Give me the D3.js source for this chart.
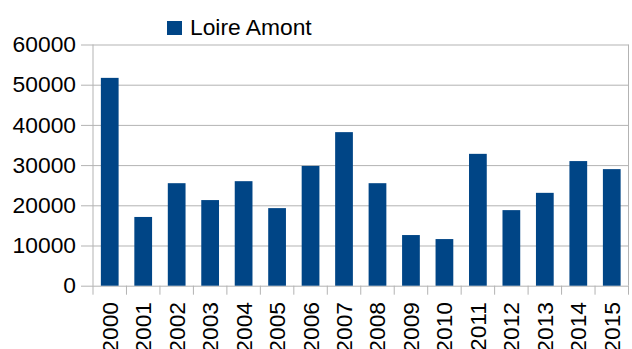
<!DOCTYPE html>
<html>
<head>
<meta charset="utf-8">
<script src="https://cdn.jsdelivr.net/npm/d3@7"></script>
<style>
  html, body { margin: 0; padding: 0; background: #fff; }
  svg { display: block; font-family: "Liberation Sans", Arial, sans-serif; }
</style>
</head>
<body>
<svg id="chart" width="632" height="349"></svg>
<script>
// Annual totals for the Loire Amont series
const years = ["2000","2001","2002","2003","2004","2005","2006","2007",
               "2008","2009","2010","2011","2012","2013","2014","2015"];
const values = [51700, 17100, 25500, 21300, 26000, 19300, 29800, 38200,
                25500, 12600, 11600, 32800, 18800, 23100, 31000, 29000];
const yTicks = [0, 10000, 20000, 30000, 40000, 50000, 60000];
const seriesName = "Loire Amont";

const svg = d3.select("#chart");
const plotLeft = 93, plotRight = 628.5, plotTop = 44.5, plotBottom = 285.7;
const gridColor = "#b3b3b3";
const barColor = "#004586";
const fontSize = 22.8;

const x = d3.scaleBand().domain(years).range([plotLeft, plotRight]).paddingInner(0.47).paddingOuter(0.235);
const y = d3.scaleLinear().domain([0, 60000]).range([plotBottom, plotTop]);

// horizontal gridlines with outward ticks
const yAxis = d3.axisLeft(y).tickValues(yTicks).tickSize(-(plotRight - plotLeft)).tickPadding(17).tickFormat(d3.format("d"));
const gy = svg.append("g").attr("transform", `translate(${plotLeft},0)`).call(yAxis);
gy.select(".domain").remove();
gy.selectAll(".tick line").attr("stroke", gridColor).attr("x1", -12);
gy.selectAll(".tick text").attr("font-size", fontSize).attr("fill", "#000")
  .attr("font-family", "Liberation Sans, Arial, sans-serif");

// category boundaries as tick marks below the baseline
const stepW = (plotRight - plotLeft) / years.length;
svg.append("g").selectAll("line").data(d3.range(years.length + 1)).join("line")
  .attr("x1", i => plotLeft + i * stepW).attr("x2", i => plotLeft + i * stepW)
  .attr("y1", plotBottom).attr("y2", plotBottom + 9)
  .attr("stroke", gridColor);

// side borders
svg.append("line").attr("x1", plotLeft).attr("x2", plotLeft).attr("y1", plotTop).attr("y2", plotBottom)
  .attr("stroke", gridColor);
svg.append("line").attr("x1", plotRight).attr("x2", plotRight).attr("y1", plotTop).attr("y2", plotBottom)
  .attr("stroke", gridColor);

// bars
svg.append("g").selectAll("rect").data(years).join("rect")
  .attr("x", d => x(d))
  .attr("width", x.bandwidth())
  .attr("y", (d, i) => y(values[i]))
  .attr("height", (d, i) => y(0) - y(values[i]))
  .attr("fill", barColor);

// rotated year labels
svg.append("g").selectAll("text").data(years).join("text")
  .attr("transform", d => `translate(${x(d) + x.bandwidth() / 2 + 8},302) rotate(-90)`)
  .attr("text-anchor", "end")
  .attr("font-size", fontSize)
  .attr("fill", "#000")
  .text(d => d);

// legend
svg.append("rect").attr("x", 167).attr("y", 21).attr("width", 15).attr("height", 14).attr("fill", barColor);
svg.append("text").attr("x", 190).attr("y", 35).attr("font-size", fontSize).attr("fill", "#000").text(seriesName);
</script>
</body>
</html>
